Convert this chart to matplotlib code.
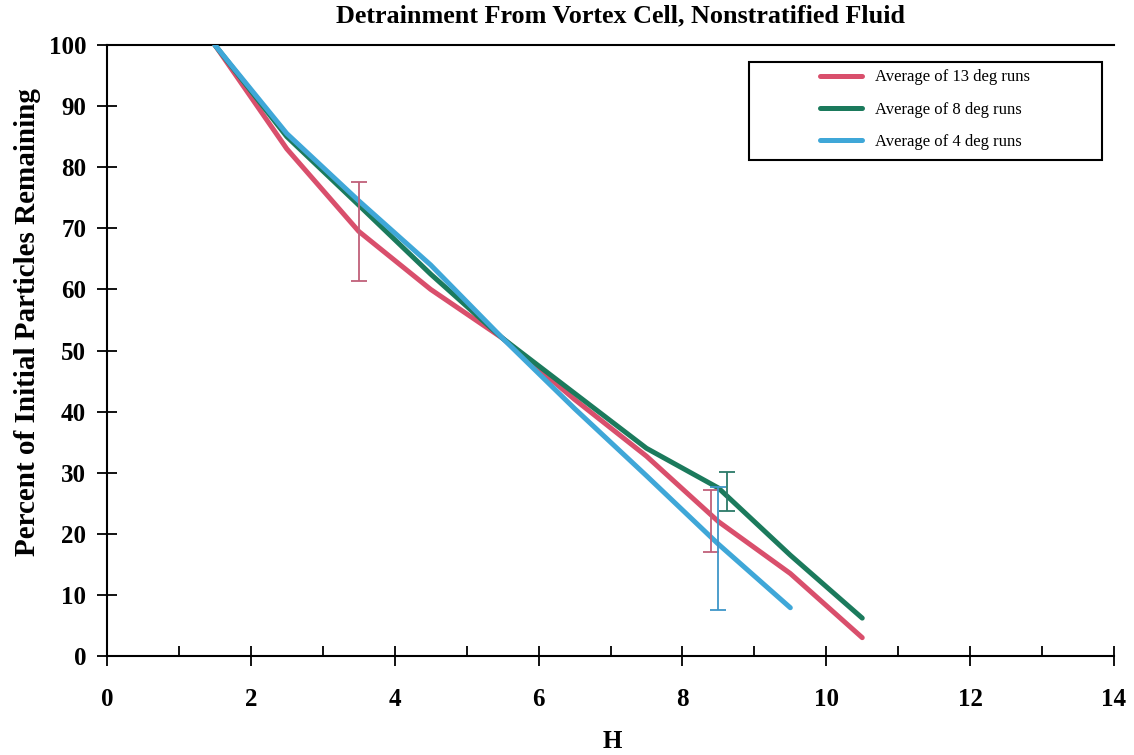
import matplotlib
matplotlib.use("Agg")
import matplotlib.pyplot as plt
from matplotlib.patches import Rectangle
from matplotlib.ticker import MultipleLocator

plt.rcParams['font.family'] = ['Liberation Serif', 'DejaVu Serif']

# Data
h = [1.5, 2.5, 3.5, 4.5, 5.5, 6.5, 7.5, 8.5, 9.5, 10.5]
h4 = [1.5, 2.5, 3.5, 4.5, 5.5, 6.5, 7.5, 8.5, 9.5]
avg13 = [100, 83, 69.5, 60, 52, 42, 32.7, 22, 13.5, 3]
avg8 = [100, 85, 73.8, 62.5, 52, 43, 34, 27.5, 16.5, 6.2]
avg4 = [100, 85.5, 74.5, 64, 52, 40.5, 29.5, 18.3, 7.9]

err13_x = [3.5, 8.4]
err13_y = [69.5, 22.1]
err13_e = [8.1, 5.1]
err8_x = [8.62]
err8_y = [26.9]
err8_e = [3.2]
err4_x = [8.5]
err4_y = [17.6]
err4_e = [10.1]

labels = ["Average of 13 deg runs", "Average of 8 deg runs", "Average of 4 deg runs"]
c13 = "#d94f6c"
c8 = "#1b7a5c"
c4 = "#3fa7d8"

fig = plt.figure(figsize=(11.34, 7.55), dpi=100)
ax = fig.add_axes([107/1134, 99/755, 1007/1134, 611/755])

l1, = ax.plot(h, avg13, color=c13, lw=3.6, solid_capstyle='round', label=labels[0], zorder=3)
l2, = ax.plot(h, avg8, color=c8, lw=3.6, solid_capstyle='round', label=labels[1], zorder=3)
l3, = ax.plot(h4, avg4, color=c4, lw=3.6, solid_capstyle='round', label=labels[2], zorder=4)

ax.errorbar(err13_x, err13_y, yerr=err13_e, fmt='none', ecolor="#c0607a", elinewidth=1.3, capsize=5.5, capthick=1.3, zorder=5)
ax.errorbar(err8_x, err8_y, yerr=err8_e, fmt='none', ecolor="#2b7a68", elinewidth=1.3, capsize=5.5, capthick=1.3, zorder=5)
ax.errorbar(err4_x, err4_y, yerr=err4_e, fmt='none', ecolor="#3f96c8", elinewidth=1.3, capsize=5.5, capthick=1.3, zorder=5)

ax.set_xlim(0, 14)
ax.set_ylim(0, 100)
ax.xaxis.set_major_locator(MultipleLocator(2))
ax.xaxis.set_minor_locator(MultipleLocator(1))
ax.yaxis.set_major_locator(MultipleLocator(10))

ax.spines['right'].set_visible(False)
for s in ['left', 'bottom', 'top']:
    ax.spines[s].set_linewidth(1.5)

ax.tick_params(axis='x', which='major', direction='inout', length=14, width=1.3, pad=16, labelsize=18)
ax.tick_params(axis='x', which='minor', direction='in', length=7, width=1.3)
ax.tick_params(axis='y', which='major', direction='inout', length=14, width=1.3, pad=8, labelsize=18)
for t in ax.get_xticklabels() + ax.get_yticklabels():
    t.set_fontweight('bold')

fig.text(612/1134, 1 - 741/755, "H", ha='center', va='center', fontsize=18, fontweight='bold')
fig.text(28/1134, 1 - 322/755, "Percent of Initial Particles Remaining", rotation=90,
         ha='center', va='center', fontsize=21, fontweight='bold')
fig.text(620/1134, 1 - 16/755, "Detrainment From Vortex Cell, Nonstratified Fluid",
         ha='center', va='center', fontsize=18.8, fontweight='bold')

leg = ax.legend(handles=[l1, l2, l3], loc='upper left', bbox_to_anchor=(0.708, 0.96),
                frameon=False, fontsize=12, handlelength=2.5, handletextpad=0.78,
                labelspacing=0.98, borderpad=0, borderaxespad=0)
ax.add_patch(Rectangle((0.638, 0.812), 0.35, 0.16, transform=ax.transAxes,
                       fill=False, lw=1.5, edgecolor='black', zorder=6))

fig.savefig("out.png", dpi=100)
